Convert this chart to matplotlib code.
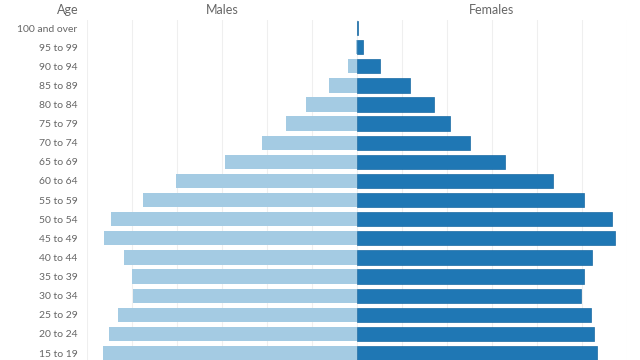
import numpy as np
import matplotlib
matplotlib.use('Agg')
import matplotlib.pyplot as plt

plt.rcParams['font.family'] = ['Lato', 'DejaVu Sans']

# age groups, top to bottom (population in thousands)
ages = ['100 and over', '95 to 99', '90 to 94', '85 to 89', '80 to 84',
        '75 to 79', '70 to 74', '65 to 69', '60 to 64', '55 to 59',
        '50 to 54', '45 to 49', '40 to 44', '35 to 39', '30 to 34',
        '25 to 29', '20 to 24', '15 to 19']
males = [3, 10, 104, 316, 571, 786, 1056, 1463, 2011, 2382,
         2730, 2808, 2586, 2500, 2493, 2656, 2756, 2822]
females = [7, 62, 251, 589, 859, 1029, 1251, 1640, 2178, 2526,
           2837, 2867, 2614, 2526, 2489, 2603, 2633, 2670]
grid_step = 500

male_col = '#a4cbe3'
female_col = '#1f77b4'
text_col = '#666666'

fig = plt.figure(figsize=(6.4, 3.6), dpi=100)
W, H = 640., 360.
left, right, top = 87, 627, 20
ax = fig.add_axes([left/W, 0, (right-left)/W, (H-top)/H])

y = np.arange(len(ages))
ax.barh(y, -np.array(males), height=0.75, color=male_col, zorder=2)
ax.barh(y, females, height=0.75, color=female_col, edgecolor='#1a6aa3',
        linewidth=0.5, zorder=2)

lim = 6*grid_step
ax.set_xlim(-lim, lim)
# row 0 centred 8px below the top, rows 19.12px apart
row_px = 19.12
ax.set_ylim((H-top-8)/row_px, -8/row_px)
ax.set_xticks(np.arange(-lim, lim+1, grid_step))
ax.xaxis.grid(True, color='#efefef', linewidth=0.8, zorder=0)
ax.tick_params(axis='x', length=0, labelbottom=False)
ax.set_yticks(y)
ax.set_yticklabels(ages, fontsize=7.5, color=text_col)
ax.tick_params(axis='y', length=0, pad=7)
for s in ax.spines.values():
    s.set_visible(False)

hy = 1 - 10/H
fig.text(79/W, hy, 'Age', ha='right', va='center', fontsize=9, color=text_col)
fig.text((left+357)/2/W, hy, 'Males', ha='center', va='center', fontsize=9, color=text_col)
fig.text((357+right)/2/W, hy, 'Females', ha='center', va='center', fontsize=9, color=text_col)

fig.savefig('out.png', dpi=100)
